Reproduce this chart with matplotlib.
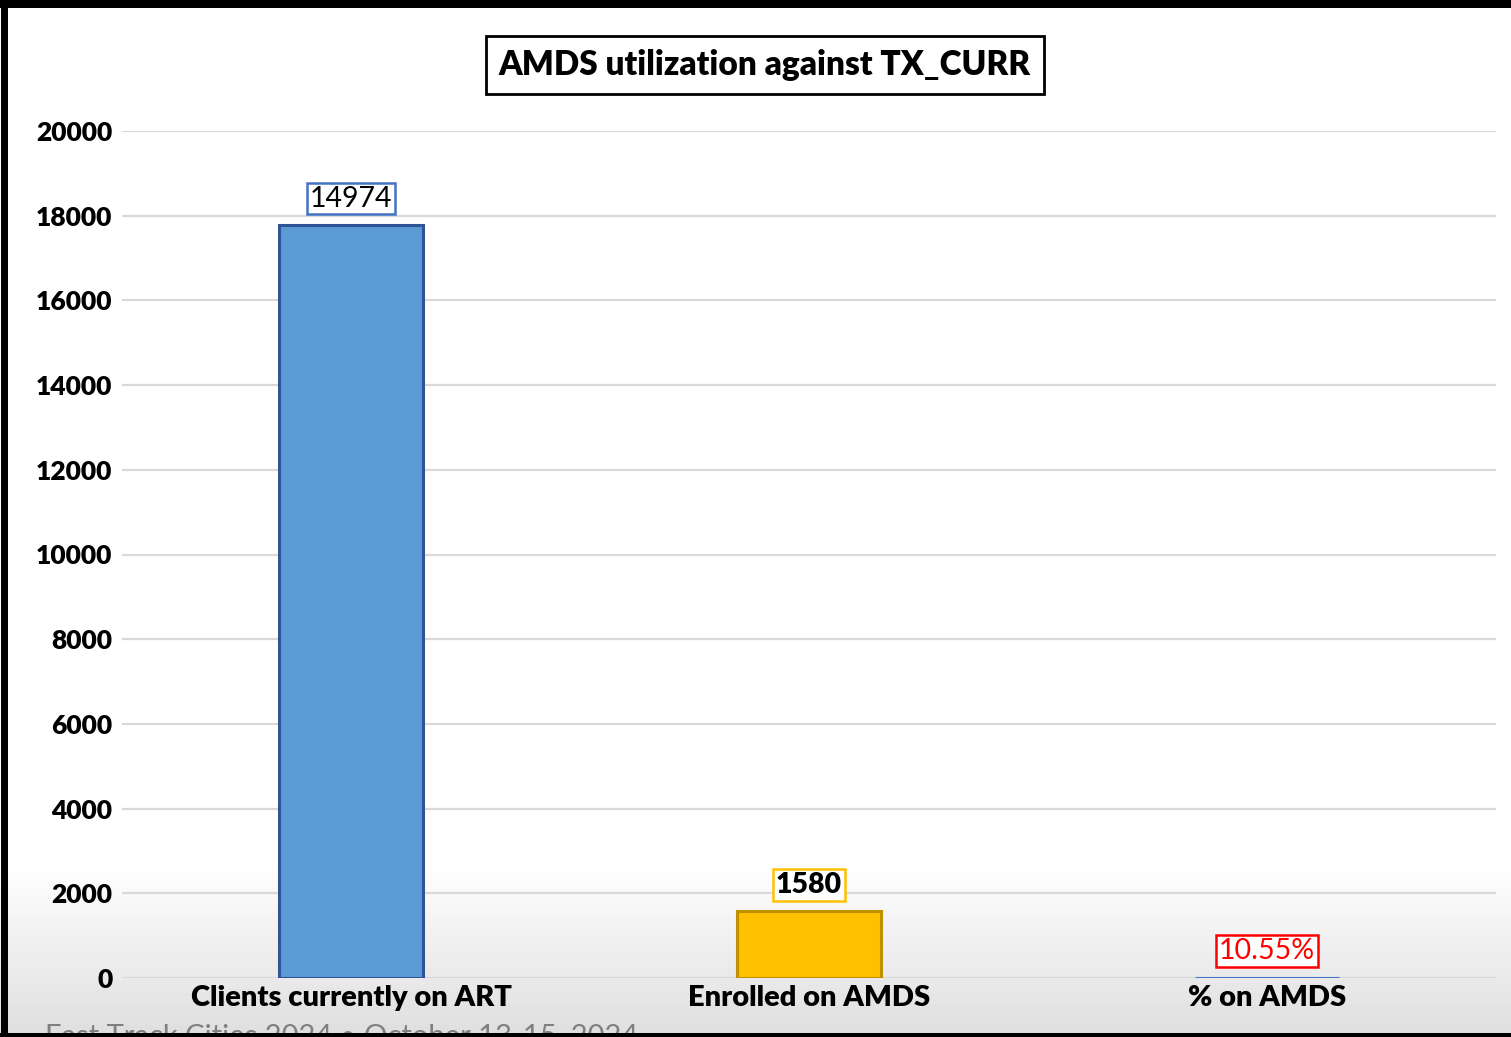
"""AMDS utilization against TX_CURR - bar chart with boxed value labels."""
import numpy as np
import matplotlib
matplotlib.use("Agg")
import matplotlib.pyplot as plt
from matplotlib.lines import Line2D

categories = ["Clients currently on ART", "Enrolled on AMDS", "% on AMDS"]
bar_heights = [17780, 1580, 10.55]
value_labels = ["14974", "1580", "10.55%"]
yticks = [0, 2000, 4000, 6000, 8000, 10000, 12000, 14000, 16000, 18000, 20000]

FACE = ["#5B9BD5", "#FFC000", "#4472C4"]
EDGE = ["#2F5597", "#BF9000", "#4472C4"]
BOX_EDGE = ["#4472C4", "#FFC000", "#FF0000"]
TXT_COL = ["black", "black", "#FF0000"]
TXT_W = ["normal", "heavy", "normal"]

plt.rcParams["font.family"] = ["Lato", "DejaVu Sans"]
W, H = 1511, 1037
fig = plt.figure(figsize=(W / 100, H / 100), dpi=100)

# soft grey gradient at the bottom of the slide
bg = fig.add_axes([0, 0, 1, 1], zorder=-5)
grad = np.ones((H, 1))
y0 = 860
for r in range(y0, H):
    grad[r, 0] = 1 - 0.13 * (r - y0) / (H - y0)
bg.imshow(grad, cmap="gray", vmin=0, vmax=1, aspect="auto",
          extent=[0, 1, 0, 1], origin="upper")
bg.set_axis_off()

ax = fig.add_axes([122 / W, 1 - 978 / H, 1374 / W, 847 / H])
ax.patch.set_alpha(0)
x = np.arange(len(categories))
ax.bar(x, bar_heights, width=0.315, color=FACE, edgecolor=EDGE, linewidth=2.2, zorder=3)
ax.set_xlim(-0.5, len(categories) - 0.5)
ax.set_ylim(0, 20000)
ax.set_yticks(yticks)
ax.set_yticklabels([str(t) for t in yticks], fontsize=19, weight="heavy")
ax.set_xticks(x)
ax.set_xticklabels(categories, fontsize=21, weight="heavy")
ax.tick_params(length=0, pad=7)
ax.tick_params(axis="x", pad=5)
for s in ax.spines.values():
    s.set_visible(False)
ax.grid(axis="y", color="#d9d9d9", lw=1.6, zorder=0)

for i, (h, lab) in enumerate(zip(bar_heights, value_labels)):
    ax.annotate(lab, (x[i], h), xytext=(0, 19), textcoords="offset points",
                ha="center", va="center", fontsize=20.5, weight=TXT_W[i],
                color=TXT_COL[i], zorder=5,
                bbox=dict(boxstyle="square,pad=0.1", fc="white", ec=BOX_EDGE[i], lw=1.8))

fig.text(765 / W, 1 - 65 / H, "AMDS utilization against TX_CURR", ha="center", va="center",
         fontsize=24, weight="heavy",
         bbox=dict(boxstyle="square,pad=0.38", fc="white", ec="black", lw=2))

# footer partly hidden under the bottom frame
fig.text(45 / W, 1 - 1036 / H, "Fast Track Cities 2024 \u2022 October 13-15, 2024",
         ha="left", va="center", fontsize=21, color="#7f7f7f")

# slide frame: left, top and bottom edges
for xs, ys, lw in [([3.5 / W, 3.5 / W], [0, 1], 7), ([0, 1], [1 - 3.5 / H, 1 - 3.5 / H], 8),
                   ([0, 1], [2 / H, 2 / H], 5)]:
    fig.add_artist(Line2D(xs, ys, color="black", lw=lw * 0.72, transform=fig.transFigure, zorder=10))

fig.savefig("out.png", dpi=100)
